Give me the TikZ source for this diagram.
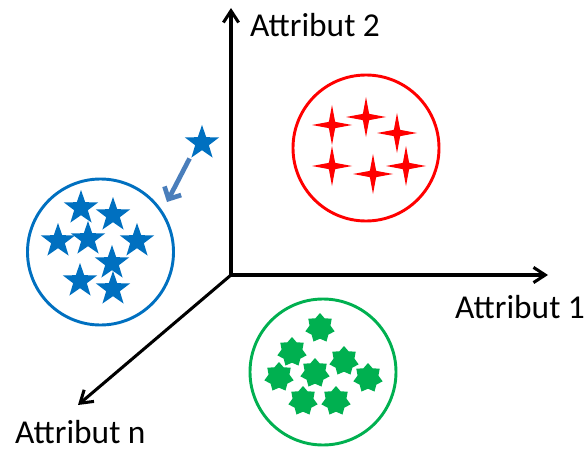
\documentclass[tikz,border=0pt]{standalone}
\usepackage{fontspec}
\setmainfont{Carlito}
\usetikzlibrary{shapes.geometric,arrows.meta}
\colorlet{myred}{red}
\definecolor{mygreen}{RGB}{0,176,80}
\definecolor{myblue}{RGB}{0,112,192}
\definecolor{mysteel}{RGB}{74,126,187}

\begin{document}
\begin{tikzpicture}[x=0.03cm,y=-0.03cm]
\useasboundingbox (0,0) rectangle (587,450);
\tikzset{axis/.style ={line width=2.6pt,-{Straight Barb[length=10pt,width=13pt]}}}
\tikzset{label/.style ={inner sep=0,font=\fontsize{28.5}{34}\selectfont}}
\tikzset{cluster/.style ={circle,draw,line width=2.5pt,minimum size=4.38cm,inner sep=0}}
\tikzset{redstar/.style ={star,star points=4,star point ratio=4.5,minimum size=1.2cm,inner sep=0,fill=myred}}
\tikzset{greenstar/.style ={star,star points=7,star point ratio=1.4,minimum size=0.9cm,inner sep=0,fill=mygreen}}
\tikzset{bluestar/.style ={star,star points=5,star point ratio=2.5,minimum size=1.08cm,inner sep=0,fill=myblue}}
% axes
\coordinate (origin) at (231,275);
\coordinate (axis1) at (548,275);
\coordinate (axis2) at (231,8);
\coordinate (axisn) at (78,405);
\draw[axis] (origin) -- (axis1);
\draw[axis] (origin) -- (axis2);
\draw[axis] (origin) -- (axisn);
\node[label,anchor=base west] (label1) at (455,318) {Attribut 1};
\node[label,anchor=base west] (label2) at (250,37) {Attribut 2};
\node[label,anchor=base west] (labeln) at (15,443) {Attribut n};
% clusters
\node[cluster,draw=myred] (redcluster) at (366,148) {};
\node[cluster,draw=mygreen] (greencluster) at (323,372) {};
\node[cluster,draw=myblue] (bluecluster) at (100.5,252) {};
% red stars
\node[redstar] (r1) at (332,125) {};
\node[redstar] (r2) at (366,117) {};
\node[redstar] (r3) at (397,133) {};
\node[redstar] (r4) at (332,166) {};
\node[redstar] (r5) at (373,174) {};
\node[redstar] (r6) at (406,166) {};
% green stars
\node[greenstar] (g1) at (320,328) {};
\node[greenstar] (g2) at (292,352) {};
\node[greenstar] (g3) at (344,361) {};
\node[greenstar] (g4) at (279,377) {};
\node[greenstar] (g5) at (315,373) {};
\node[greenstar] (g6) at (368,378) {};
\node[greenstar] (g7) at (303,401) {};
\node[greenstar] (g8) at (336,401) {};
% blue stars
\node[bluestar] (b1) at (81,208) {};
\node[bluestar] (b2) at (113,215) {};
\node[bluestar] (b3) at (58,241) {};
\node[bluestar] (b4) at (88,239) {};
\node[bluestar] (b5) at (137,241) {};
\node[bluestar] (b6) at (112,263) {};
\node[bluestar] (b7) at (80,281) {};
\node[bluestar] (b8) at (113,289) {};
\node[bluestar] (b0) at (202,143) {};
\coordinate (arrowtip) at (167,202);
\draw[mysteel,line width=4pt,-{Straight Barb[length=8pt,width=16pt]},shorten <=6pt] (b0.south west) -- (arrowtip);
\end{tikzpicture}
\end{document}
